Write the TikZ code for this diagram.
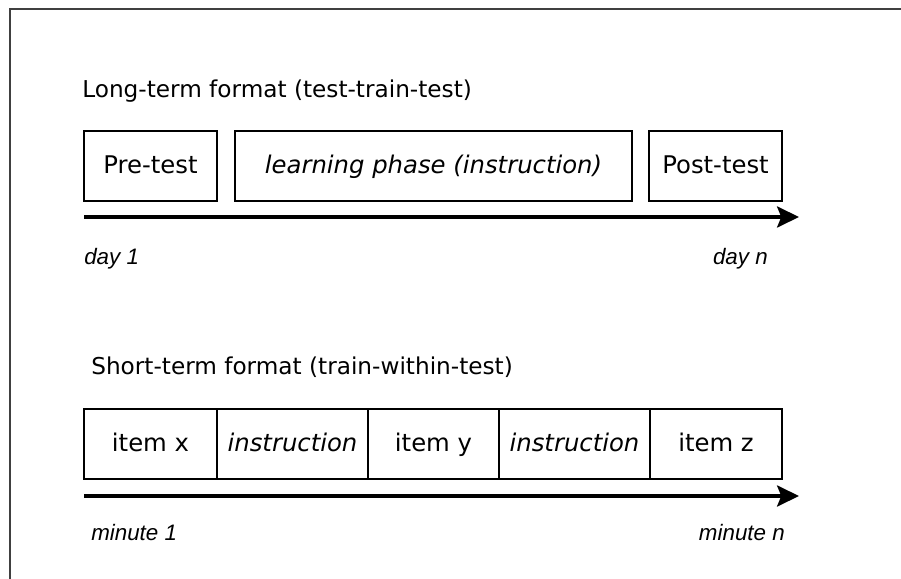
\documentclass[tikz,border=0pt]{standalone}
\usepackage{fontspec}
\setmainfont{DejaVu Sans}
\newfontfamily\labelfont{Liberation Sans}
\usetikzlibrary{arrows.meta}

\begin{document}
\begin{tikzpicture}[phase/.style={rectangle, draw, line width=0.9pt, minimum height=1.75cm, inner sep=0pt, text height=1.2em, text depth=0.07em, font=\fontsize{17.3}{20}\selectfont},
    heading/.style={anchor=base west, inner sep=0pt, font=\fontsize{16.5}{20}\selectfont},
    timelabel/.style={inner sep=0pt, font=\labelfont\itshape\fontsize{15.9}{18}\selectfont},
    timeline/.style={line width=2.4pt, -{Stealth[length=15.6pt, width=15pt, inset=3pt]}}]
    \useasboundingbox (0, 0) rectangle (22.525, -14.475);
    \draw [line width=1.1pt, black!75] (0.25, -14.7) -- (0.25, -0.225) -- (22.8, -0.225);

    % long-term format
    \node at (2.05, -2.44) [heading] (lthead) {Long-term format (test-train-test)};
    \node at (3.7625, -4.15) [phase, minimum width=3.325cm] (pre) {Pre-test};
    \node at (10.8375, -4.15) [phase, minimum width=9.925cm] (learn) {\itshape learning phase (instruction)};
    \node at (17.8875, -4.15) [phase, minimum width=3.325cm] (post) {Post-test};

    \coordinate (ltstart) at (2.1, -5.425);
    \coordinate (ltend) at (19.975, -5.425);
    \draw [timeline] (ltstart) -- (ltend);
    \node at (2.1, -6.625) [timelabel, anchor=base west] (dayone) {day 1};
    \node at (19.2, -6.625) [timelabel, anchor=base east] (dayn) {day n};

    % short-term format
    \node at (2.275, -9.375) [heading] (sthead) {Short-term format (train-within-test)};
    \node at (3.7625, -11.1) [phase, minimum width=3.325cm] (itemx) {item x};
    \node at (7.3125, -11.1) [phase, minimum width=3.775cm] (instrone) {\itshape instruction};
    \node at (10.8375, -11.1) [phase, minimum width=3.275cm] (itemy) {item y};
    \node at (14.3625, -11.1) [phase, minimum width=3.775cm] (instrtwo) {\itshape instruction};
    \node at (17.9, -11.1) [phase, minimum width=3.3cm] (itemz) {item z};

    \coordinate (ststart) at (2.1, -12.4);
    \coordinate (stend) at (19.975, -12.4);
    \draw [timeline] (ststart) -- (stend);
    \node at (2.275, -13.5) [timelabel, anchor=base west] (minone) {minute 1};
    \node at (19.625, -13.5) [timelabel, anchor=base east] (minn) {minute n};
\end{tikzpicture}
\end{document}
